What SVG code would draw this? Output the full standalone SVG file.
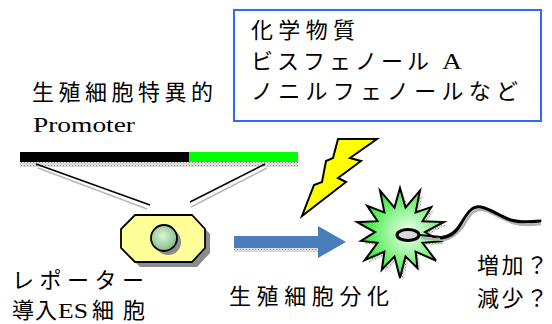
<svg xmlns="http://www.w3.org/2000/svg" width="552" height="324" viewBox="0 0 552 324">
  <defs>
    <pattern id="dots" width="3" height="3" patternUnits="userSpaceOnUse">
      <rect width="3" height="3" fill="#e4e4e4"/>
      <rect width="1" height="1" fill="#8a8a8a"/>
      <rect x="1.5" y="1.5" width="1" height="1" fill="#a8a8a8"/>
    </pattern>
    <radialGradient id="nucleusFill" cx="0.45" cy="0.42" r="0.6">
      <stop offset="0" stop-color="#d6f7d6"/>
      <stop offset="1" stop-color="#86b886"/>
    </radialGradient>
    <radialGradient id="burstFill" cx="0.6" cy="0.5" r="0.55">
      <stop offset="0" stop-color="#f2fff2"/>
      <stop offset="0.45" stop-color="#9cf59c"/>
      <stop offset="1" stop-color="#2ee82e"/>
    </radialGradient>
  </defs>
  <style>
    .jp { font-family: "Noto Sans CJK JP", "Noto Sans", sans-serif; font-size: 22px; fill: #000; }
    .lat { font-family: "Liberation Serif", "DejaVu Serif", serif; }
    .shadowLine { stroke: #b8b8b8; stroke-width: 1.5; fill: none; }
    .edge { stroke: #000; stroke-width: 1.5; fill: none; }
  </style>

  <!-- promoter / reporter construct -->
  <g id="construct">
    <rect x="20" y="161" width="278" height="6" fill="url(#dots)"/>
    <rect x="20" y="152" width="169" height="10" fill="#000"/>
    <rect x="189" y="152" width="109" height="10" fill="#00ff00"/>
  </g>

  <!-- lines from the construct down to the cell -->
  <g id="connectors">
    <line class="shadowLine" x1="38" y1="168" x2="147" y2="209"/>
    <line class="shadowLine" x1="267" y1="168" x2="191" y2="207"/>
    <line class="edge" x1="36" y1="164" x2="150" y2="205"/>
    <line class="edge" x1="265" y1="164" x2="190" y2="202"/>
  </g>

  <!-- ES cell -->
  <g id="es-cell">
    <polygon points="140,220 197,220 210,234 210,253 197,267 140,267 126,253 126,234" fill="#8c8c8c"/>
    <polygon points="135,215 192,215 205,229 205,248 192,262 135,262 121,248 121,229" fill="#ffff99" stroke="#000" stroke-width="1.8"/>
    <circle cx="168" cy="242" r="13" fill="#8c8c8c"/>
    <circle cx="164" cy="238" r="13" fill="url(#nucleusFill)" stroke="#000" stroke-width="1.8"/>
  </g>

  <!-- differentiation arrow -->
  <g id="arrow">
    <rect x="234" y="246" width="86" height="6" fill="url(#dots)"/>
    <polygon points="234,236 318,236 318,226 346,242 318,258 318,248 234,248" fill="#4a7ebb"/>
  </g>

  <!-- chemical stimulus bolt -->
  <g id="bolt">
    <polygon points="338,139 377,139 350,158 361,161 338,178 346,182 302,216 314,185 322,182 326,161 333,158" fill="#ffff00" stroke="#000" stroke-width="2" stroke-linejoin="miter"/>
  </g>

  <!-- germ cell burst with sperm -->
  <g id="germ-cell">
    <polygon transform="translate(3,3)" fill="url(#dots)" points="400,188 405.5,207.6 420,190.6 415.6,212.4 431.3,207.1 422.5,221.2 443.9,222 425,232 440.9,241.3 422.5,242.8 436,260.7 415.6,251.6 417.4,268 405.5,256.4 400,278 394.5,256.4 381.8,269.8 384.4,251.6 364.8,260.1 377.5,242.8 361,240.9 375,232 357.1,222.2 377.5,221.2 367.2,205.8 384.4,212.4 380,190.6 394.5,207.6"/>
    <polygon fill="url(#burstFill)" stroke="#000" stroke-width="2" stroke-linejoin="miter" points="400,188 405.5,207.6 420,190.6 415.6,212.4 431.3,207.1 422.5,221.2 443.9,222 425,232 440.9,241.3 422.5,242.8 436,260.7 415.6,251.6 417.4,268 405.5,256.4 400,278 394.5,256.4 381.8,269.8 384.4,251.6 364.8,260.1 377.5,242.8 361,240.9 375,232 357.1,222.2 377.5,221.2 367.2,205.8 384.4,212.4 380,190.6 394.5,207.6"/>
    <path d="M421,238 L443,240 C453,239 459,232 464,225 C470,214 475,208 483,210 C493,212 501,219 513,223 C523,226 533,225 541,224" stroke="#b0b0b0" stroke-width="2.5" fill="none"/>
    <ellipse cx="408" cy="235" rx="11" ry="5.5" fill="#d8d8d8" stroke="#000" stroke-width="3"/>
    <path d="M419,235 L441,237 C451,236 457,230 461,223" stroke="#000" stroke-width="2" fill="none"/>
    <path d="M441,238 C453,237 458,229 462,222 C468,212 473,205 481,207 C491,209 499,216 511,220 C521,223 531,222 540,221" stroke="#000" stroke-width="3" fill="none" stroke-linecap="round"/>
  </g>

  <!-- chemical substances box -->
  <g id="chemicals">
    <rect x="234" y="10" width="307" height="111" fill="#fff" stroke="#3366ff" stroke-width="2"/>
    <text class="jp" x="251" y="38" textLength="104" lengthAdjust="spacing">化学物質</text>
    <text class="jp" x="251" y="69" textLength="178" lengthAdjust="spacing">ビスフェノール</text>
    <text class="lat" x="442" y="69" font-size="24" textLength="20" lengthAdjust="spacingAndGlyphs">A</text>
    <text class="jp" x="251" y="99" textLength="267" lengthAdjust="spacing">ノニルフェノールなど</text>
  </g>

  <!-- labels -->
  <g id="labels">
    <text class="jp" x="32" y="100" font-size="23" textLength="181" lengthAdjust="spacing">生殖細胞特異的</text>
    <text class="lat" x="33" y="132" font-size="22" textLength="102" lengthAdjust="spacingAndGlyphs">Promoter</text>
    <text class="jp" x="12" y="288" textLength="132" lengthAdjust="spacing">レポーター</text>
    <text class="jp" x="12" y="318" textLength="45" lengthAdjust="spacing">導入</text>
    <text class="lat" x="58" y="318" font-size="22" textLength="30" lengthAdjust="spacingAndGlyphs">ES</text>
    <text class="jp" x="92" y="318" textLength="53" lengthAdjust="spacing">細胞</text>
    <text class="jp" x="229" y="304" font-size="23" textLength="160" lengthAdjust="spacing">生殖細胞分化</text>
    <text class="jp" x="477" y="273" textLength="71" lengthAdjust="spacing">増加？</text>
    <text class="jp" x="477" y="306" textLength="71" lengthAdjust="spacing">減少？</text>
  </g>
</svg>
